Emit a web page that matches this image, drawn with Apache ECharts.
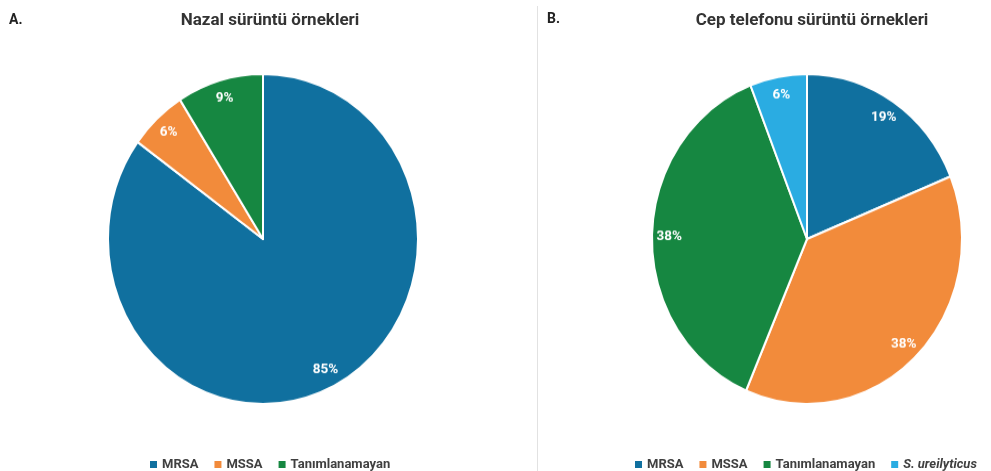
<!DOCTYPE html>
<html>
<head>
<meta charset="utf-8">
<title>Sürüntü örnekleri</title>
<script src="https://cdn.jsdelivr.net/npm/echarts@6/dist/echarts.min.js"></script>
<style>
  html, body { margin: 0; padding: 0; background: #fff; }
  #wrap { position: relative; width: 991px; height: 471px; overflow: hidden; }
  #pies, #frame { position: absolute; left: 0; top: 0; width: 991px; height: 471px; }
  /* the pies are drawn slightly taller than wide */
  #pies { transform: scaleY(1.0645); transform-origin: 0 239px; }
</style>
</head>
<body>
<div id="wrap">
  <div id="pies"></div>
  <div id="frame"></div>
</div>
<script>
// A. nasal swab samples
const nasalTitle = 'Nazal sürüntü örnekleri';
const nasalNames = ['MRSA', 'MSSA', 'Tanımlanamayan'];
const nasalValues = [85, 6, 9];

// B. mobile phone swab samples
const phoneTitle = 'Cep telefonu sürüntü örnekleri';
const phoneNames = ['MRSA', 'MSSA', 'Tanımlanamayan', 'S. ureilyticus'];
const phoneValues = [19, 38, 38, 6];

const colorOf = {
  'MRSA': '#10709f',
  'MSSA': '#f28b3b',
  'Tanımlanamayan': '#168741',
  'S. ureilyticus': '#2aace2'
};

const FONT = 'Roboto, "Noto Sans", sans-serif';
const R = 155;

function toData(names, values) {
  return names.map((n, i) => ({ name: n, value: values[i], itemStyle: { color: colorOf[n] } }));
}

function pieSeries(names, values, cx) {
  const data = toData(names, values);
  return [
    {
      type: 'pie',
      center: [cx, 239],
      radius: [0, R],
      startAngle: 90,
      clockwise: true,
      avoidLabelOverlap: false,
      label: { show: false },
      labelLine: { show: false },
      itemStyle: { borderColor: '#ffffff', borderWidth: 2 },
      data: data
    },
    {
      // transparent ring that carries the value labels near the rim
      type: 'pie',
      center: [cx, 239],
      radius: [R * 0.74, R],
      startAngle: 90,
      clockwise: true,
      silent: true,
      avoidLabelOverlap: false,
      itemStyle: { color: 'rgba(0,0,0,0)', borderWidth: 0 },
      label: {
        show: true,
        position: 'inside',
        formatter: p => p.value + '%',
        color: '#ffffff',
        fontFamily: FONT,
        fontWeight: 'bold',
        fontSize: 13.5
      },
      labelLine: { show: false },
      emphasis: { disabled: true },
      data: data.map(d => ({ name: d.name, value: d.value }))
    }
  ];
}

const pies = echarts.init(document.getElementById('pies'), null, { renderer: 'canvas' });
pies.setOption({
  animation: false,
  backgroundColor: '#ffffff',
  series: [].concat(pieSeries(nasalNames, nasalValues, 263), pieSeries(phoneNames, phoneValues, 807))
});

const frame = echarts.init(document.getElementById('frame'), null, { renderer: 'canvas' });
const legendText = {
  color: '#404040',
  fontFamily: FONT,
  fontWeight: 'bold',
  fontSize: 13,
  rich: { it: { fontStyle: 'italic', fontWeight: 'bold', fontSize: 13, fontFamily: FONT, color: '#404040' } }
};
const legendFormat = n => (n === 'S. ureilyticus' ? '{it|' + n + '}' : n);
const titleText = { color: '#333333', fontFamily: FONT, fontWeight: 'bold', fontSize: 17 };
const tagText = { color: '#222222', fontFamily: FONT, fontWeight: 'bold', fontSize: 14 };

frame.setOption({
  animation: false,
  title: [
    { text: nasalTitle, left: 265, top: 7, textAlign: 'center', textStyle: titleText },
    { text: phoneTitle, left: 807, top: 7, textAlign: 'center', textStyle: titleText },
    { text: 'A.', left: 4, top: 8, textStyle: tagText },
    { text: 'B.', left: 542, top: 7, textStyle: tagText }
  ],
  legend: [
    { data: nasalNames, left: 145, top: 453, icon: 'rect', itemWidth: 7, itemHeight: 7,
      itemGap: 16, selectedMode: false, textStyle: legendText, formatter: legendFormat },
    { data: phoneNames, left: 630, top: 453, icon: 'rect', itemWidth: 7, itemHeight: 7,
      itemGap: 16, selectedMode: false, textStyle: legendText, formatter: legendFormat }
  ],
  graphic: [
    { type: 'line', silent: true, shape: { x1: 537.5, y1: 6, x2: 537.5, y2: 471 },
      style: { stroke: '#e2e2e2', lineWidth: 1 } }
  ],
  series: [
    // zero-size pies: they only feed colours and names to the legends
    { type: 'pie', radius: [0, 0], center: [263, 239], silent: true, label: { show: false },
      data: toData(nasalNames, nasalValues) },
    { type: 'pie', radius: [0, 0], center: [807, 239], silent: true, label: { show: false },
      data: toData(phoneNames, phoneValues) }
  ]
});
</script>
</body>
</html>
